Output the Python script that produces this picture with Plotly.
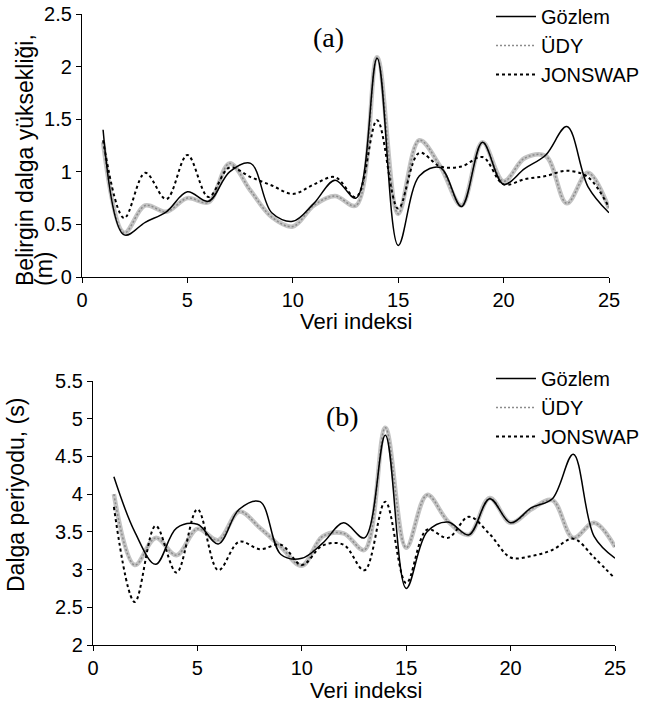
import plotly.graph_objects as go

idx = list(range(1, 26))

# (a) Belirgin dalga yüksekliği (m)
hs_gozlem = [1.40, 0.40, 0.52, 0.62, 0.81, 0.72, 1.00, 1.08, 0.61, 0.53, 0.70, 0.92, 0.75, 2.08, 0.30,
             0.96, 1.04, 0.67, 1.28, 0.88, 1.03, 1.16, 1.43, 0.86, 0.61]
hs_udy = [1.28, 0.42, 0.68, 0.62, 0.75, 0.71, 1.08, 0.82, 0.57, 0.48, 0.68, 0.77, 0.68, 2.09, 0.60,
          1.30, 1.05, 0.68, 1.28, 0.91, 1.13, 1.15, 0.70, 0.99, 0.65]
hs_jonswap = [1.30, 0.56, 0.99, 0.74, 1.16, 0.76, 1.04, 0.95, 0.87, 0.79, 0.88, 0.95, 0.76, 1.49, 0.65,
              1.18, 1.05, 1.05, 1.14, 0.88, 0.93, 0.96, 1.01, 0.95, 0.66]

# (b) Dalga periyodu (s)
tp_gozlem = [4.23, 3.50, 3.07, 3.55, 3.60, 3.34, 3.80, 3.90, 3.20, 3.15, 3.35, 3.62, 3.42, 4.78, 2.75,
             3.50, 3.63, 3.46, 3.94, 3.62, 3.82, 3.94, 4.53, 3.44, 3.15]
tp_udy = [4.00, 3.06, 3.42, 3.19, 3.54, 3.39, 3.77, 3.55, 3.30, 3.05, 3.44, 3.48, 3.26, 4.88, 3.29,
          3.99, 3.64, 3.46, 3.95, 3.62, 3.80, 3.92, 3.42, 3.62, 3.30]
tp_jonswap = [3.83, 2.57, 3.58, 2.96, 3.80, 2.99, 3.37, 3.27, 3.33, 3.06, 3.32, 3.33, 2.99, 3.90, 2.82,
              3.53, 3.42, 3.70, 3.47, 3.16, 3.18, 3.26, 3.41, 3.16, 2.88]

series_names = ["Gözlem", "ÜDY", "JONSWAP"]
x_ticks = [0, 5, 10, 15, 20, 25]
y1_ticks = [0, 0.5, 1, 1.5, 2, 2.5]
y2_ticks = [2, 2.5, 3, 3.5, 4, 4.5, 5, 5.5]

W, H = 645, 705
FONT = "Liberation Sans, Arial, sans-serif"

fig = go.Figure()


def add_panel(xa, ya, leg, obs, udy, jon):
    # ÜDY: thick grey textured line
    fig.add_trace(go.Scatter(x=idx, y=udy, xaxis=xa, yaxis=ya, mode="lines",
                             line=dict(color="#c4c4c4", width=4.5, shape="spline", smoothing=1),
                             showlegend=False, hoverinfo="skip"))
    fig.add_trace(go.Scatter(x=idx, y=udy, xaxis=xa, yaxis=ya, mode="lines", name=series_names[1],
                             line=dict(color="#8c8c8c", width=1.5, dash="2px,2px", shape="spline", smoothing=1),
                             legend=leg, legendrank=2))
    fig.add_trace(go.Scatter(x=idx, y=obs, xaxis=xa, yaxis=ya, mode="lines", name=series_names[0],
                             line=dict(color="black", width=1.5, shape="spline", smoothing=1),
                             legend=leg, legendrank=1))
    fig.add_trace(go.Scatter(x=idx, y=jon, xaxis=xa, yaxis=ya, mode="lines", name=series_names[2],
                             line=dict(color="black", width=2, dash="3px,3px", shape="spline", smoothing=1),
                             legend=leg, legendrank=3))


add_panel("x", "y", "legend", hs_gozlem, hs_udy, hs_jonswap)
add_panel("x2", "y2", "legend2", tp_gozlem, tp_udy, tp_jonswap)

axis_common = dict(showline=True, linecolor="black", linewidth=1.2, ticks="outside", ticklen=5,
                   tickwidth=1.2, tickcolor="black", showgrid=False, zeroline=False, automargin=False,
                   tickfont=dict(family=FONT, size=20, color="black"))


def px_x(p):
    return p / W


def px_y(p):
    return 1 - p / H


leg_common = dict(xanchor="right", yanchor="top", bgcolor="rgba(0,0,0,0)",
                  font=dict(family=FONT, size=20, color="black"), itemwidth=40, tracegroupgap=0,
                  borderwidth=0)

fig.update_layout(
    template="none",
    width=W, height=H, margin=dict(l=0, r=0, t=0, b=0, autoexpand=False),
    paper_bgcolor="white", plot_bgcolor="white",
    xaxis=dict(domain=[px_x(82), px_x(609)], range=[0, 25], tickvals=x_ticks, anchor="y", **axis_common),
    yaxis=dict(domain=[px_y(277), px_y(14)], range=[0, 2.5], tickvals=y1_ticks, anchor="x", **axis_common),
    xaxis2=dict(domain=[px_x(93), px_x(615)], range=[0, 25], tickvals=x_ticks, anchor="y2", **axis_common),
    yaxis2=dict(domain=[px_y(645), px_y(381)], range=[2, 5.5], tickvals=y2_ticks, anchor="x2", **axis_common),
    legend=dict(x=1.0, y=px_y(-3), **leg_common),
    legend2=dict(x=1.0, y=px_y(359), **leg_common),
    showlegend=True,
)

ann_font = dict(family=FONT, size=22, color="black")
yt_font = dict(family=FONT, size=23, color="black")
fig.add_annotation(text="Veri indeksi", xref="paper", yref="paper", x=px_x(356), y=px_y(321),
                   showarrow=False, font=ann_font, xanchor="center", yanchor="middle")
fig.add_annotation(text="Veri indeksi", xref="paper", yref="paper", x=px_x(366), y=px_y(690),
                   showarrow=False, font=ann_font, xanchor="center", yanchor="middle")
fig.add_annotation(text="Belirgin dalga yüksekliği,", xref="paper", yref="paper", x=px_x(25), y=px_y(288),
                   showarrow=False, font=yt_font, textangle=-90, xanchor="center", yanchor="bottom")
fig.add_annotation(text="(m)", xref="paper", yref="paper", x=px_x(44), y=px_y(288),
                   showarrow=False, font=yt_font, textangle=-90, xanchor="center", yanchor="bottom")
fig.add_annotation(text="Dalga periyodu, (s)", xref="paper", yref="paper", x=px_x(16), y=px_y(495),
                   showarrow=False, font=yt_font, textangle=-90, xanchor="center", yanchor="middle")
fig.add_annotation(text="(a)", xref="paper", yref="paper", x=px_x(328), y=px_y(38),
                   showarrow=False, font=dict(family="Liberation Serif, Times New Roman, serif", size=28, color="black"),
                   xanchor="center", yanchor="middle")
fig.add_annotation(text="(b)", xref="paper", yref="paper", x=px_x(342), y=px_y(416),
                   showarrow=False, font=dict(family="Liberation Serif, Times New Roman, serif", size=28, color="black"),
                   xanchor="center", yanchor="middle")

fig.write_html("out.html")
